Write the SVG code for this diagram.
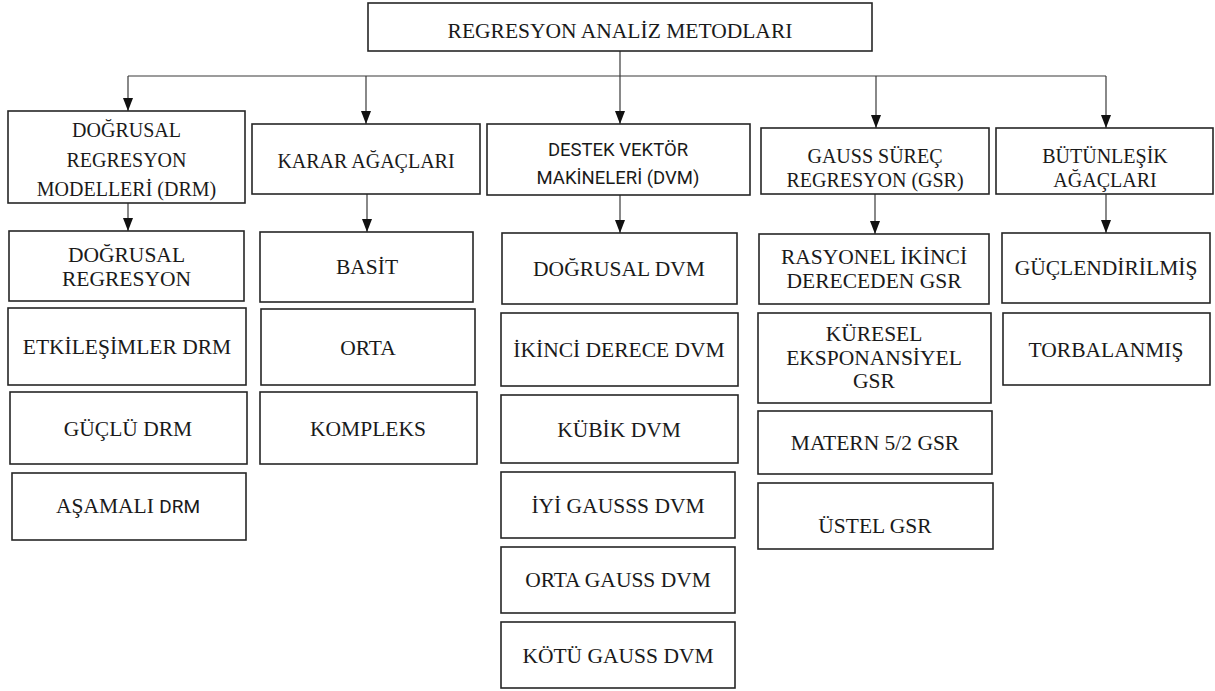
<svg xmlns="http://www.w3.org/2000/svg" width="1215" height="691" viewBox="0 0 1215 691">
<defs>
<style>
.box{fill:#fff;stroke:#262626;stroke-width:1.6}
.con{stroke:#3a3a3a;stroke-width:1.2;fill:none}
.arr{marker-end:url(#ah)}
</style>
<marker id="ah" viewBox="0 0 13 10" refX="13" refY="5" markerWidth="13" markerHeight="10" markerUnits="userSpaceOnUse" orient="auto">
<path d="M0,0 L13,5 L0,10 z" fill="#111"/>
</marker>
</defs>
<rect width="1215" height="691" fill="#fff"/>

<g id="connectors">
<line class="con" x1="620" y1="51" x2="620" y2="76"/>
<line class="con" x1="128" y1="76" x2="1106" y2="76"/>
<line class="con arr" x1="128" y1="76" x2="128" y2="111"/>
<line class="con arr" x1="366" y1="76" x2="366" y2="124"/>
<line class="con arr" x1="620" y1="76" x2="620" y2="124"/>
<line class="con arr" x1="876" y1="76" x2="876" y2="128"/>
<line class="con arr" x1="1106" y1="76" x2="1106" y2="128"/>
<line class="con arr" x1="128" y1="203" x2="128" y2="231"/>
<line class="con arr" x1="367" y1="194" x2="367" y2="232"/>
<line class="con arr" x1="620" y1="195" x2="620" y2="233"/>
<line class="con arr" x1="875" y1="194" x2="875" y2="234"/>
<line class="con arr" x1="1106" y1="194" x2="1106" y2="233"/>
</g>

<g font-family="Liberation Serif, Times New Roman, DejaVu Serif, serif" fill="#1a1a1a" text-anchor="middle">
<g id="root"><rect class="box" x="368" y="3" width="504" height="48"/><text x="620" y="38" font-size="21.5">REGRESYON ANALİZ METODLARI</text></g>

<g id="drm" font-size="20"><rect class="box" x="8" y="111" width="237" height="92"/>
<text x="126.5" y="137">DOĞRUSAL</text><text x="126.5" y="167">REGRESYON</text><text x="126.5" y="196">MODELLERİ (DRM)</text></g>
<g id="karar" font-size="20"><rect class="box" x="252" y="124" width="228" height="70"/>
<text x="366" y="168">KARAR AĞAÇLARI</text></g>
<g id="dvm" font-family="Roboto, Liberation Sans, sans-serif" font-size="18.5"><rect class="box" x="487" y="124" width="263" height="71"/>
<text x="618" y="156">DESTEK VEKTÖR</text><text x="618" y="184">MAKİNELERİ (DVM)</text></g>
<g id="gsr" font-size="20"><rect class="box" x="761" y="128" width="228" height="66"/>
<text x="875" y="163">GAUSS SÜREÇ</text><text x="875" y="187">REGRESYON (GSR)</text></g>
<g id="but" font-size="20"><rect class="box" x="996" y="128" width="217" height="66"/>
<text x="1105" y="163">BÜTÜNLEŞİK</text><text x="1105" y="187">AĞAÇLARI</text></g>

<g font-size="21.5">
<g id="drm1"><rect class="box" x="9" y="231" width="235" height="70"/><text x="126.5" y="262">DOĞRUSAL</text><text x="126.5" y="286">REGRESYON</text></g>
<g id="drm2"><rect class="box" x="8" y="308" width="238" height="77"/><text x="127" y="354">ETKİLEŞİMLER DRM</text></g>
<g id="drm3"><rect class="box" x="10" y="392" width="237" height="72"/><text x="128" y="436">GÜÇLÜ DRM</text></g>
<g id="drm4"><rect class="box" x="12" y="473" width="234" height="67"/><text x="128" y="513">AŞAMALI <tspan font-family="Roboto, Liberation Sans, sans-serif" font-size="19">DRM</tspan></text></g>

<g id="k1"><rect class="box" x="260" y="232" width="213" height="70"/><text x="367" y="274">BASİT</text></g>
<g id="k2"><rect class="box" x="261" y="309" width="214" height="76"/><text x="368" y="355">ORTA</text></g>
<g id="k3"><rect class="box" x="260" y="392" width="217" height="72"/><text x="368" y="436">KOMPLEKS</text></g>

<g id="d1"><rect class="box" x="502" y="233" width="235" height="71"/><text x="619" y="276">DOĞRUSAL DVM</text></g>
<g id="d2"><rect class="box" x="501" y="313" width="237" height="73"/><text x="619" y="357">İKİNCİ DERECE DVM</text></g>
<g id="d3"><rect class="box" x="501" y="395" width="237" height="68"/><text x="619" y="437">KÜBİK DVM</text></g>
<g id="d4"><rect class="box" x="501" y="472" width="234" height="66"/><text x="618" y="513">İYİ GAUSSS DVM</text></g>
<g id="d5"><rect class="box" x="501" y="547" width="234" height="66"/><text x="618" y="587">ORTA GAUSS DVM</text></g>
<g id="d6"><rect class="box" x="501" y="622" width="234" height="66"/><text x="618" y="663">KÖTÜ GAUSS DVM</text></g>

<g id="g1"><rect class="box" x="759" y="234" width="230" height="70"/><text x="874" y="264">RASYONEL İKİNCİ</text><text x="874" y="288">DERECEDEN GSR</text></g>
<g id="g2"><rect class="box" x="758" y="313" width="233" height="90"/><text x="874" y="341">KÜRESEL</text><text x="874" y="365">EKSPONANSİYEL</text><text x="874" y="388">GSR</text></g>
<g id="g3"><rect class="box" x="758" y="411" width="234" height="63"/><text x="875" y="450">MATERN 5/2 GSR</text></g>
<g id="g4"><rect class="box" x="758" y="483" width="235" height="66"/><text x="875" y="533">ÜSTEL GSR</text></g>

<g id="b1"><rect class="box" x="1002" y="233" width="208" height="70"/><text x="1106" y="275">GÜÇLENDİRİLMİŞ</text></g>
<g id="b2"><rect class="box" x="1003" y="313" width="207" height="72"/><text x="1106" y="357">TORBALANMIŞ</text></g>
</g>
</g>
</svg>
